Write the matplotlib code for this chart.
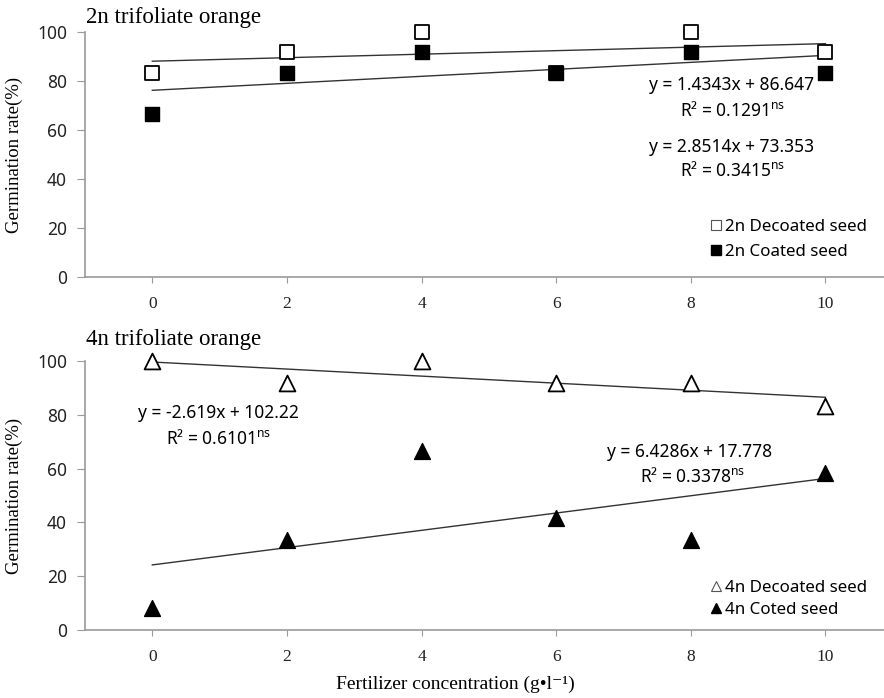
import numpy as np
import matplotlib
matplotlib.use("Agg")
import matplotlib.pyplot as plt
from matplotlib.lines import Line2D

plt.rcParams["font.family"] = ["Noto Sans", "DejaVu Sans"]
plt.rcParams["mathtext.fontset"] = "custom"
plt.rcParams["mathtext.rm"] = "Noto Sans"
plt.rcParams["mathtext.default"] = "rm"

SERIF = ["Liberation Serif", "DejaVu Serif"]

conc = [0, 2, 4, 6, 8, 10]
rate_2n_decoated = [83.3, 91.7, 100.0, 83.3, 100.0, 91.7]
rate_2n_coated = [66.7, 83.3, 91.7, 83.3, 91.7, 83.3]
rate_4n_decoated = [100.0, 91.7, 100.0, 91.7, 91.7, 83.3]
rate_4n_coated = [8.3, 33.3, 66.7, 41.7, 33.3, 58.3]

eq_2n = ["y = 1.4343x + 86.647", "y = 2.8514x + 73.353"]
r2_2n = ["0.1291", "0.3415"]
eq_4n = ["y = -2.619x + 102.22", "y = 6.4286x + 17.778"]
r2_4n = ["0.6101", "0.3378"]

W, H = 884, 698
fig = plt.figure(figsize=(W / 100, H / 100), dpi=100)

def px_axes(left, top, right, bottom):
    return fig.add_axes([left / W, 1 - bottom / H, (right - left) / W, (bottom - top) / H])

ax1 = px_axes(85, 32, 884, 277)
ax2 = px_axes(85, 361, 884, 630)


def style(ax):
    ax.set_xlim(-1, 10.87)
    ax.set_ylim(0, 100)
    ax.set_yticks([0, 20, 40, 60, 80, 100])
    ax.set_xticks(conc)
    for s in ["top", "right"]:
        ax.spines[s].set_visible(False)
    for s in ["left", "bottom"]:
        ax.spines[s].set_color("#9a9a9a")
        ax.spines[s].set_linewidth(1.2)
    ax.tick_params(axis="y", colors="#9a9a9a", length=6, labelcolor="#222222",
                   labelsize=12.5, pad=7)
    ax.tick_params(axis="x", colors="#9a9a9a", length=4, labelcolor="#222222",
                   labelsize=12.5, pad=10)
    for lab in ax.get_xticklabels():
        lab.set_family(SERIF)
    ax.set_ylabel("Germination rate(%)", family=SERIF, fontsize=13.5, labelpad=10)


def fit_line(ax, y):
    k, b = np.polyfit(conc, y, 1)
    xs = np.array([conc[0], conc[-1]])
    ax.plot(xs, k * xs + b, color="#333333", lw=1.0, zorder=2)


style(ax1)
style(ax2)

eqfs = 12.5
legfs = 12.2

# 2n
fit_line(ax1, rate_2n_decoated)
fit_line(ax1, rate_2n_coated)
ax1.scatter(conc, rate_2n_decoated, marker="s", s=110, facecolor="white",
            edgecolor="black", linewidth=1.3, zorder=3, clip_on=False)
ax1.scatter(conc, rate_2n_coated, marker="s", s=110, facecolor="black",
            edgecolor="black", zorder=4, clip_on=False)
fig.text(86 / W, 1 - 17 / H, "2n trifoliate orange", family=SERIF, fontsize=16.5,
         va="center", ha="left")

fig.text(732 / W, 1 - 85 / H, eq_2n[0], fontsize=eqfs, ha="center", va="center")
fig.text(680 / W, 1 - 110 / H, "R² = " + r2_2n[0] + r"$^{\mathrm{ns}}$", fontsize=eqfs,
         ha="left", va="center")
fig.text(732 / W, 1 - 147 / H, eq_2n[1], fontsize=eqfs, ha="center", va="center")
fig.text(680 / W, 1 - 171 / H, "R² = " + r2_2n[1] + r"$^{\mathrm{ns}}$", fontsize=eqfs,
         ha="left", va="center")

h1 = [Line2D([], [], ls="", marker="s", ms=7.5, mfc="white", mec="#555555", mew=0.8),
      Line2D([], [], ls="", marker="s", ms=7.5, mfc="black", mec="black")]
ax1.legend(h1, ["2n Decoated seed", "2n Coated seed"], frameon=False,
           loc="upper left", bbox_to_anchor=(704 / W, 1 - 212 / H),
           bbox_transform=fig.transFigure, handlelength=0.6, handletextpad=0.25,
           labelspacing=0.55, fontsize=legfs, borderaxespad=0)

# 4n
fit_line(ax2, rate_4n_decoated)
fit_line(ax2, rate_4n_coated)
ax2.scatter(conc, rate_4n_decoated, marker="^", s=130, facecolor="white",
            edgecolor="black", linewidth=1.3, zorder=3, clip_on=False)
ax2.scatter(conc, rate_4n_coated, marker="^", s=130, facecolor="black",
            edgecolor="black", zorder=4, clip_on=False)
fig.text(86 / W, 1 - 340 / H, "4n trifoliate orange", family=SERIF, fontsize=16.5,
         va="center", ha="left")

fig.text(218 / W, 1 - 413 / H, eq_4n[0], fontsize=eqfs, ha="center", va="center")
fig.text(166 / W, 1 - 438 / H, "R² = " + r2_4n[0] + r"$^{\mathrm{ns}}$", fontsize=eqfs,
         ha="left", va="center")
fig.text(690 / W, 1 - 452 / H, eq_4n[1], fontsize=eqfs, ha="center", va="center")
fig.text(640 / W, 1 - 477 / H, "R² = " + r2_4n[1] + r"$^{\mathrm{ns}}$", fontsize=eqfs,
         ha="left", va="center")

h2 = [Line2D([], [], ls="", marker="^", ms=7.5, mfc="white", mec="#555555", mew=0.8),
      Line2D([], [], ls="", marker="^", ms=7.5, mfc="black", mec="black")]
ax2.legend(h2, ["4n Decoated seed", "4n Coted seed"], frameon=False,
           loc="upper left", bbox_to_anchor=(704 / W, 1 - 573 / H),
           bbox_transform=fig.transFigure, handlelength=0.6, handletextpad=0.25,
           labelspacing=0.35, fontsize=legfs, borderaxespad=0)

fig.text(455 / W, 1 - 684 / H, "Fertilizer concentration (g•l⁻¹)", family=SERIF,
         fontsize=14, ha="center", va="center")

fig.savefig("out.png", dpi=100)
